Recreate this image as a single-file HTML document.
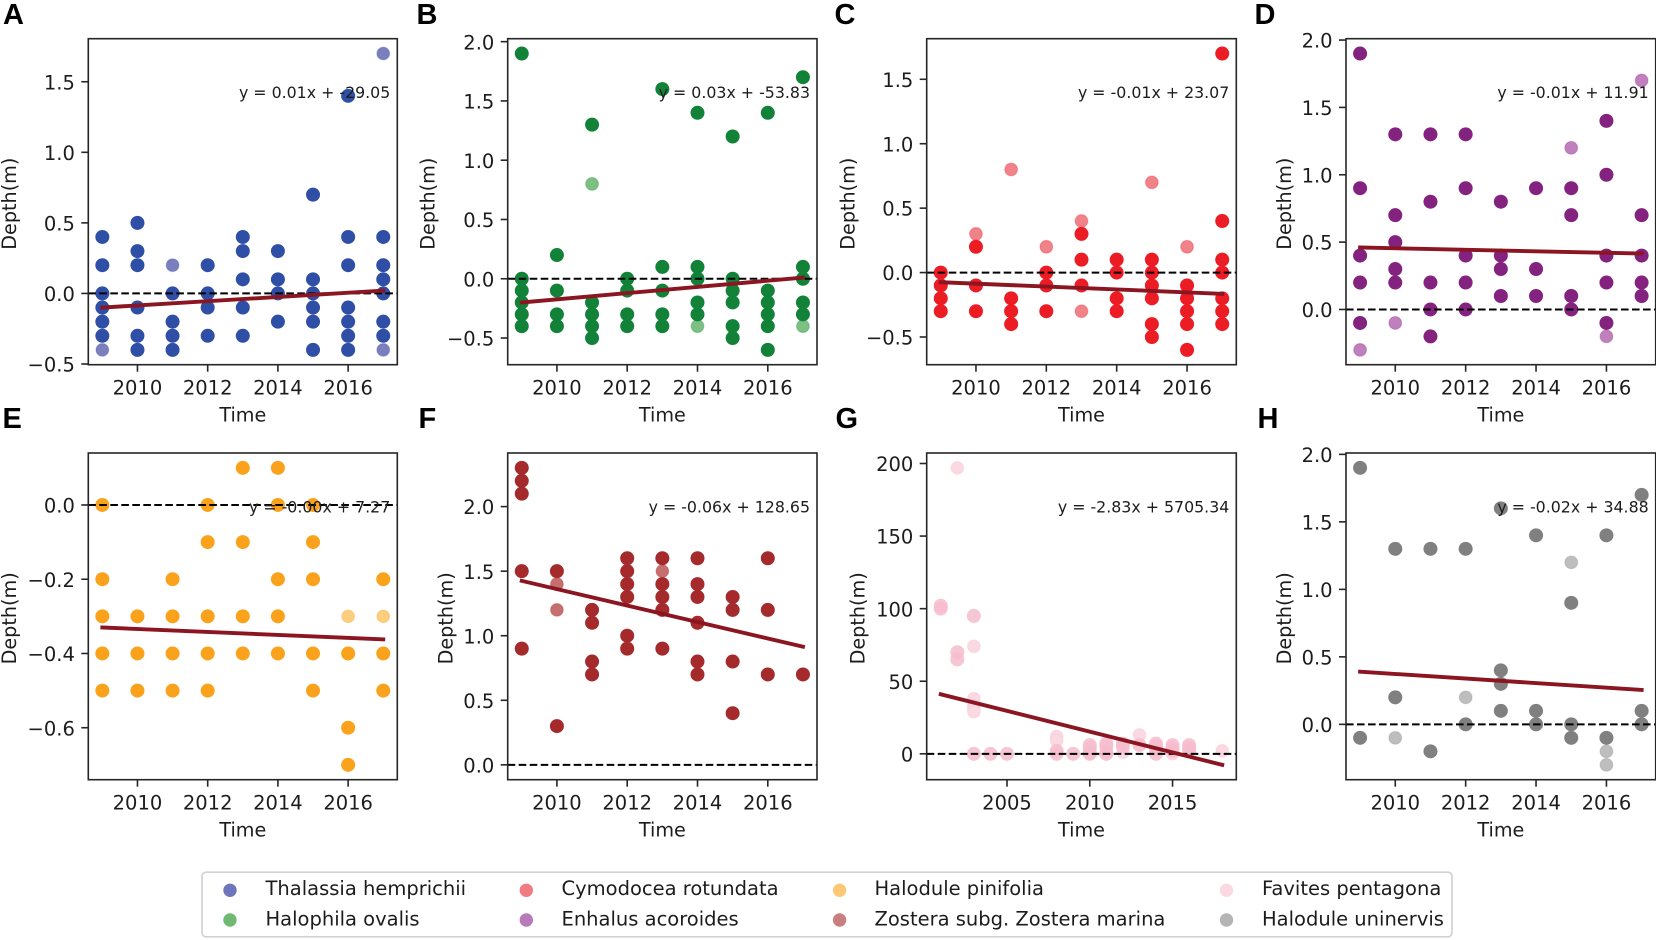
<!DOCTYPE html>
<html lang="en">
<head>
<meta charset="utf-8">
<title>Depth trends by species, panels A to H</title>
<style>
html,body{margin:0;padding:0;background:#fff;}
svg{display:block;}
text{font-family:"DejaVu Sans",sans-serif;fill:#1c1c1c;}
.letter{font-family:"Liberation Sans",sans-serif;font-weight:700;font-size:29px;fill:#000;}
.legend-label{font-size:19.5px;}
</style>
</head>
<body>
<svg id="figure" xmlns="http://www.w3.org/2000/svg" width="1656" height="940" viewBox="0 0 1656 940">
  <rect x="0" y="0" width="1656" height="940" fill="#fff"/>
  <g id="panels"></g>
  <g>
    <rect x="202" y="872.2" width="1250" height="64.6" rx="4" ry="4" fill="#fff" stroke="#d2d2d2" stroke-width="1.7"/>
    <g>
      <circle cx="230" cy="890.3" r="6.7" fill="#6f75bb"/>
      <text class="legend-label" x="265.5" y="895">Thalassia hemprichii</text>
    </g>
    <g>
      <circle cx="230" cy="920" r="6.7" fill="#6fb974"/>
      <text class="legend-label" x="265.5" y="925.3">Halophila ovalis</text>
    </g>
    <g>
      <circle cx="526.3" cy="890.3" r="6.7" fill="#f17b82"/>
      <text class="legend-label" x="561.5" y="895">Cymodocea rotundata</text>
    </g>
    <g>
      <circle cx="526.3" cy="920" r="6.7" fill="#b87ab8"/>
      <text class="legend-label" x="561.5" y="925.3">Enhalus acoroides</text>
    </g>
    <g>
      <circle cx="839.6" cy="890.3" r="6.7" fill="#fdc873"/>
      <text class="legend-label" x="874.5" y="895">Halodule pinifolia</text>
    </g>
    <g>
      <circle cx="839.6" cy="920" r="6.7" fill="#c87f7f"/>
      <text class="legend-label" x="874.5" y="925.3">Zostera subg. Zostera marina</text>
    </g>
    <g>
      <circle cx="1226.5" cy="890.3" r="6.7" fill="#fbd9e2"/>
      <text class="legend-label" x="1262" y="895">Favites pentagona</text>
    </g>
    <g>
      <circle cx="1226.5" cy="920" r="6.7" fill="#b4b4b4"/>
      <text class="legend-label" x="1262" y="925.3">Halodule uninervis</text>
    </g>
  </g>
</svg>
<script>
// Shared categories
const years = [2009, 2010, 2011, 2012, 2013, 2014, 2015, 2016, 2017];
const yearsG = [2001, 2002, 2003, 2004, 2005, 2008, 2009, 2010, 2011, 2012, 2013, 2014, 2015, 2016, 2018];
const xTicks = [2010, 2012, 2014, 2016];
const xTicksG = [2005, 2010, 2015];

// Panel A: Thalassia hemprichii
const depthsA = [[0.4,0.2,0,-0.1,-0.2,-0.3],[0.5,0.3,0.2,-0.1,-0.3,-0.4],[0,-0.2,-0.3,-0.4],[0.2,0,-0.1,-0.3],[0.4,0.3,0.1,-0.1,-0.3],[0.3,0.1,0,-0.2],[0.7,0.1,0,-0.1,-0.2,-0.4],[1.4,0.4,0.2,-0.1,-0.2,-0.3,-0.4],[0.4,0.2,0.1,0,-0.2,-0.3]];
const faintA = [[-0.4],[],[0.2],[],[],[],[],[],[1.7,-0.4]];
const trendA = [-0.10, 0.02];
const yTicksA = [-0.5, 0, 0.5, 1, 1.5];

// Panel B: Halophila ovalis
const depthsB = [[1.9,0,-0.1,-0.2,-0.3,-0.4],[0.2,-0.1,-0.3,-0.4],[1.3,-0.2,-0.3,-0.4,-0.5],[0,-0.1,-0.3,-0.4],[1.6,0.1,-0.1,-0.3,-0.4],[1.4,0.1,0,-0.2,-0.3],[1.2,0,-0.1,-0.2,-0.4,-0.5],[1.4,-0.1,-0.2,-0.3,-0.4,-0.6],[1.7,0.1,0,-0.2,-0.3]];
const faintB = [[],[],[0.8],[],[],[-0.4],[],[],[-0.4]];
const trendB = [-0.20, 0.01];
const yTicksB = [-0.5, 0, 0.5, 1, 1.5, 2];

// Panel C: Cymodocea rotundata
const depthsC = [[0,-0.1,-0.2,-0.3],[0.2,-0.1,-0.3],[-0.2,-0.3,-0.4],[0,-0.1,-0.3],[0.3,0.1,-0.1],[0.1,0,-0.2,-0.3],[0.1,0,-0.1,-0.2,-0.4,-0.5],[-0.1,-0.2,-0.3,-0.4,-0.6],[1.7,0.4,0.1,0,-0.2,-0.3,-0.4]];
const faintC = [[],[0.3],[0.8],[0.2],[0.4,-0.3],[],[0.7],[0.2],[]];
const trendC = [-0.075, -0.165];
const yTicksC = [-0.5, 0, 0.5, 1, 1.5];

// Panel D: Enhalus acoroides
const depthsD = [[1.9,0.9,0.4,0.2,-0.1],[1.3,0.7,0.5,0.3,0.2],[1.3,0.8,0.2,0,-0.2],[1.3,0.9,0.4,0.2,0],[0.8,0.4,0.3,0.1],[0.9,0.3,0.1],[0.9,0.7,0.1,0],[1.4,1,0.4,0.2,-0.1],[0.7,0.4,0.2,0.1]];
const faintD = [[-0.3],[-0.1],[],[],[],[],[1.2],[-0.2],[1.7]];
const trendD = [0.46, 0.415];
const yTicksD = [0, 0.5, 1, 1.5, 2];

// Panel E: Halodule pinifolia
const depthsE = [[0,-0.2,-0.3,-0.4,-0.5],[-0.3,-0.4,-0.5],[-0.2,-0.3,-0.4,-0.5],[0,-0.1,-0.3,-0.4,-0.5],[0.1,-0.1,-0.3,-0.4],[0.1,0,-0.2,-0.3,-0.4],[0,-0.1,-0.2,-0.4,-0.5],[-0.4,-0.6,-0.7],[-0.2,-0.4,-0.5]];
const faintE = [[],[],[],[],[],[],[],[-0.3],[-0.3]];
const trendE = [-0.33, -0.362];
const yTicksE = [-0.6, -0.4, -0.2, 0];

// Panel F: Zostera marina
const depthsF = [[2.3,2.2,2.1,1.5,0.9],[1.5,0.3],[1.2,1.1,0.8,0.7],[1.6,1.5,1.4,1.3,1,0.9],[1.6,1.4,1.3,1.2,0.9],[1.6,1.4,1.3,1.1,0.8,0.7],[1.3,1.2,0.8,0.4],[1.6,1.2,0.7],[0.7]];
const faintF = [[],[1.4,1.2],[],[],[1.5],[],[],[],[]];
const trendF = [1.425, 0.915];
const yTicksF = [0, 0.5, 1, 1.5, 2];

// Panel G: Favites pentagona
const depthsG = [[100,102],[70,65],[95,0],[0],[0],[2,0],[0],[6,4,1,0],[7,5,1,0],[7,5],[6],[7,5,3,0],[6,4,2],[6,4,2],[]];
const faintG = [[],[197],[74,38,33,31,29],[],[],[12,9],[],[],[],[1],[13],[],[0],[],[2]];
const trendG = [41, -7.6];
const yTicksG = [0, 50, 100, 150, 200];

// Panel H: Halodule uninervis
const depthsH = [[1.9,-0.1],[1.3,0.2],[1.3,-0.2],[1.3,0],[1.6,0.4,0.3,0.1],[1.4,0.1,0],[0.9,0,-0.1],[1.4,-0.1],[1.7,0.1,0]];
const faintH = [[],[-0.1],[],[0.2],[],[],[1.2],[-0.2,-0.3],[]];
const trendH = [0.39, 0.255];
const yTicksH = [0, 0.5, 1, 1.5, 2];

const equations = ["y = 0.01x + -29.05","y = 0.03x + -53.83","y = -0.01x + 23.07","y = -0.01x + 11.91","y = -0.00x + 7.27","y = -0.06x + 128.65","y = -2.83x + 5705.34","y = -0.02x + 34.88"];

const SVGNS = "http://www.w3.org/2000/svg";
const TOP_ROW = {top: 38.7, bottom: 364.7, letterY: 24};
const BOT_ROW = {top: 453, bottom: 779.7, letterY: 428};

const panels = [
  {id:"a",letter:"A",x:years,d:depthsA,f:faintA,t:trendA,yt:yTicksA,xt:xTicks,dec:1,solid:"#2f4ea5",faint:"#7b7fbd",op:1,l:88.3,r:397.3,row:TOP_ROW,lx:3,ylx:16},
  {id:"b",letter:"B",x:years,d:depthsB,f:faintB,t:trendB,yt:yTicksB,xt:xTicks,dec:1,solid:"#128239",faint:"#7cc084",op:1,l:507.7,r:817,row:TOP_ROW,lx:416.5,ylx:434.3},
  {id:"c",letter:"C",x:years,d:depthsC,f:faintC,t:trendC,yt:yTicksC,xt:xTicks,dec:1,solid:"#ec1c24",faint:"#f0828a",op:1,l:926.7,r:1236.3,row:TOP_ROW,lx:834.5,ylx:854.3},
  {id:"d",letter:"D",x:years,d:depthsD,f:faintD,t:trendD,yt:yTicksD,xt:xTicks,dec:1,solid:"#84237f",faint:"#c07fbd",op:1,l:1346,r:1655.7,row:TOP_ROW,lx:1254.5,ylx:1291},
  {id:"e",letter:"E",x:years,d:depthsE,f:faintE,t:trendE,yt:yTicksE,xt:xTicks,dec:1,solid:"#faa21b",faint:"#fdcd80",op:1,l:88.3,r:397.3,row:BOT_ROW,lx:2.5,ylx:16},
  {id:"f",letter:"F",x:years,d:depthsF,f:faintF,t:trendF,yt:yTicksF,xt:xTicks,dec:1,solid:"#a52a2c",faint:"#c66f6f",op:1,l:507.7,r:817,row:BOT_ROW,lx:418.5,ylx:452.7},
  {id:"g",letter:"G",x:yearsG,d:depthsG,f:faintG,t:trendG,yt:yTicksG,xt:xTicksG,dec:0,solid:"#f6bccd",faint:"#fad9e2",op:0.85,l:926.7,r:1236.3,row:BOT_ROW,lx:835.5,ylx:864.3},
  {id:"h",letter:"H",x:years,d:depthsH,f:faintH,t:trendH,yt:yTicksH,xt:xTicks,dec:1,solid:"#808080",faint:"#bebebe",op:1,l:1346,r:1655.7,row:BOT_ROW,lx:1257.5,ylx:1291}
];

function make(tag, parent, geometry) {
  const node = document.createElementNS(SVGNS, tag);
  for (const key in geometry) node.setAttribute(key, geometry[key]);
  parent.appendChild(node);
  return node;
}

function expand(lo, hi) {
  const margin = (hi - lo) * 0.05;
  return [lo - margin, hi + margin];
}

const root = document.getElementById("panels");

panels.forEach(function (p, index) {
  const top = p.row.top, bottom = p.row.bottom;

  // auto-limits: data extent plus 5% margin, as derived from the values
  const allDepths = [0].concat(p.t);
  p.d.concat(p.f).forEach(function (list) { list.forEach(function (v) { allDepths.push(v); }); });
  const yLim = expand(Math.min.apply(null, allDepths), Math.max.apply(null, allDepths));
  const xLim = expand(p.x[0], p.x[p.x.length - 1]);
  const xScale = function (v) { return p.l + (v - xLim[0]) / (xLim[1] - xLim[0]) * (p.r - p.l); };
  const yScale = function (v) { return bottom - (v - yLim[0]) / (yLim[1] - yLim[0]) * (bottom - top); };

  const g = make("g", root, {});
  
  

  const letter = make("text", g, {x: p.lx, y: p.row.letterY, "class": "letter"});
  letter.textContent = p.letter;
  
  

  // faint (single) points first, dense points above them
  p.f.forEach(function (list, i) {
    list.forEach(function (v) {
      const dot = make("circle", g, {cx: xScale(p.x[i]), cy: yScale(v), r: 6.4, fill: p.faint, stroke: p.solid, "stroke-opacity": 0.25, "stroke-width": 1.2});
      
      
    });
  });
  p.d.forEach(function (list, i) {
    list.forEach(function (v) {
      const dot = make("circle", g, {cx: xScale(p.x[i]), cy: yScale(v), r: 7, fill: p.solid, "fill-opacity": p.op});
      
      
    });
  });

  const zero = make("line", g, {x1: p.l, x2: p.r, y1: yScale(0), y2: yScale(0), stroke: "#000", "stroke-width": 2, "stroke-dasharray": "7.6 3.4"});
  
  

  const trend = make("line", g, {x1: xScale(p.x[0]), x2: xScale(p.x[p.x.length - 1]), y1: yScale(p.t[0]), y2: yScale(p.t[1]), stroke: "#8b1520", "stroke-width": 3.9, "stroke-linecap": "square"});
  
  

  const frame = make("rect", g, {x: p.l, y: top, width: p.r - p.l, height: bottom - top, fill: "none", stroke: "#262626", "stroke-width": 1.6});
  
  

  p.xt.forEach(function (v) {
    const tick = make("line", g, {x1: xScale(v), x2: xScale(v), y1: bottom, y2: bottom + 7, stroke: "#262626", "stroke-width": 1.6});
    
    
    const label = make("text", g, {x: xScale(v), y: bottom + 29.6, "text-anchor": "middle", "font-size": 19.5});
    label.textContent = String(v);
    
    
  });

  p.yt.forEach(function (v) {
    const tick = make("line", g, {x1: p.l - 7, x2: p.l, y1: yScale(v), y2: yScale(v), stroke: "#262626", "stroke-width": 1.6});
    
    
    const label = make("text", g, {x: p.l - 13.4, y: yScale(v) + 7.6, "text-anchor": "end", "font-size": 19.5});
    label.textContent = (v < 0 ? "\u2212" : "") + Math.abs(v).toFixed(p.dec);
    
    
  });

  const xTitle = make("text", g, {x: (p.l + p.r) / 2, y: bottom + 57, "text-anchor": "middle", "font-size": 19.2});
  xTitle.textContent = "Time";
  
  

  const yMid = (top + bottom) / 2 + 2;
  const yTitle = make("text", g, {x: p.ylx, y: yMid, "text-anchor": "middle", "font-size": 19.2, transform: "rotate(-90 " + p.ylx + " " + yMid + ")"});
  yTitle.textContent = "Depth(m)";
  
  

  const eq = make("text", g, {x: p.r - 7, y: top + 59.3, "text-anchor": "end", "font-size": 15.8});
  eq.textContent = equations[index];
  
  
});
</script>
</body>
</html>
